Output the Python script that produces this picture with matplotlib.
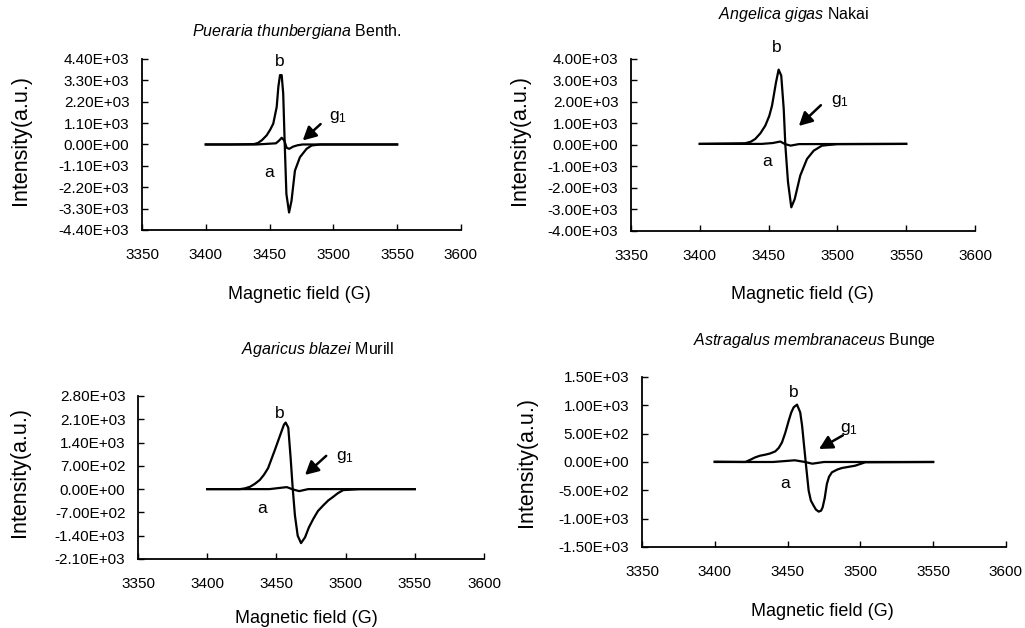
import matplotlib
matplotlib.use("Agg")
from matplotlib import pyplot as plt
from matplotlib.ticker import FuncFormatter, MultipleLocator

plt.rcParams['font.family'] = ['Liberation Sans', 'DejaVu Sans']
plt.rcParams['mathtext.fontset'] = 'custom'
plt.rcParams['mathtext.rm'] = 'Liberation Sans'
plt.rcParams['mathtext.it'] = 'Liberation Sans:italic'

# ---- data (field in G, intensity in a.u.) ----
titles = [r"$\it{Pueraria\ thunbergiana}$ Benth.",
          r"$\it{Angelica\ gigas}$ Nakai",
          r"$\it{Agaricus\ blazei}$ Murill",
          r"$\it{Astragalus\ membranaceus}$ Bunge"]

# Pueraria thunbergiana
b1_x = [3400, 3420, 3438, 3441, 3444, 3447.7, 3450.5, 3452.9, 3455.6, 3456.9, 3458.2, 3459.5,
        3460.7, 3461.9, 3463.2, 3465.3, 3467.2, 3469.9, 3473.8, 3479, 3483, 3490, 3520, 3550]
b1_y = [0, 0, 20, 80, 220, 466, 760, 1070, 1930, 2966, 3570, 3570,
        2620, 0, -2550, -3500, -2900, -1345, -657, -224, -52, 0, 0, 0]
a1_x = [3400, 3440, 3455, 3457.5, 3459.5, 3461.5, 3463.4, 3465.4, 3468.5, 3472, 3476, 3550]
a1_y = [0, 0, 60, 200, 345, 207, -171, -224, -110, -40, 0, 0]

# Angelica gigas
b2_x = [3400, 3433, 3437, 3440.3, 3444, 3447.6, 3450.5, 3452.5, 3455.4, 3457.3, 3459.2, 3461, 3462.2,
        3464.1, 3466.5, 3469, 3473, 3477.9, 3482.8, 3488.8, 3500, 3550]
b2_y = [50, 80, 150, 279, 540, 898, 1350, 1829, 2915, 3504, 3225, 1674, -31,
        -1720, -2900, -2512, -1426, -651, -264, -31, 40, 50]
a2_x = [3400, 3445, 3453, 3458.5, 3462, 3466, 3472, 3550]
a2_y = [50, 50, 90, 160, 40, -30, 40, 50]

# Agaricus blazei
b3_x = [3400, 3423.7, 3427, 3431, 3434.5, 3438, 3441, 3444, 3449, 3453.8, 3455.5, 3456.7,
        3458.6, 3460.3, 3461.8, 3463.4, 3465.4, 3467.8, 3470.7, 3473.5, 3476.7, 3480,
        3483.9, 3487.5, 3491, 3494.5, 3498.3, 3510, 3550]
b3_y = [0, 0, 20, 71, 160, 274, 430, 629, 1187, 1745, 1940, 2000,
        1847, 934, 20, -791, -1400, -1623, -1450, -1150, -893, -660,
        -487, -340, -233, -120, -30, 0, 0]
a3_x = [3400, 3445, 3457.5, 3462, 3466.5, 3473, 3550]
a3_y = [0, 0, 60, -10, -60, 0, 0]

# Astragalus membranaceus
b4_x = [3400, 3421, 3424.5, 3427.8, 3431, 3434.7, 3438, 3441.6, 3444, 3446.2, 3448.5, 3450.8,
        3452.5, 3454.2, 3456.5, 3458.7, 3460, 3461, 3462.6, 3464.5, 3466, 3467.9, 3469.5,
        3471.4, 3473, 3474.1, 3475.5, 3477, 3478.5, 3480.5, 3484, 3487.4, 3496.5, 3503.4, 3550]
b4_y = [5, 0, 40, 82, 110, 129, 150, 188, 250, 347, 520, 729,
        870, 965, 1012, 876, 640, 377, -35, -506, -680, -771, -840,
        -876, -860, -800, -640, -388, -260, -182, -135, -106, -65, -5, 0]
a4_x = [3400, 3440, 3455, 3462, 3467, 3475, 3550]
a4_y = [0, 0, 30, 0, -30, 0, 0]

ylims = [(-4400, 4400), (-4000, 4000), (-2100, 2800), (-1500, 1500)]
ysteps = [1100, 1000, 700, 500]

# label positions (data coords): b, a, g1, arrow tail, arrow head
b_pos = [(3458, 4245), (3456, 4512), (3452.6, 2283), (3454, 1235)]
a_pos = [(3450, -1450), (3449, -791), (3440, -578), (3448, -388)]
g_pos = [(3503.6, 1398), (3502, 2047), (3499.6, 974), (3492, 582)]
arrow_tail = [(3490, 1050), (3488, 1850), (3486, 1000), (3488, 470)]
arrow_head = [(3476, 207), (3472, 884), (3470.7, 426), (3471.6, 229)]

curves = [(b1_x, b1_y, a1_x, a1_y), (b2_x, b2_y, a2_x, a2_y),
          (b3_x, b3_y, a3_x, a3_y), (b4_x, b4_y, a4_x, a4_y)]

# axes rectangles in figure fraction, plus label/title positions in axes fraction
rects = [[0.1385, 0.6338, 0.3112, 0.2723],
         [0.6156, 0.6322, 0.3356, 0.2739],
         [0.1346, 0.1099, 0.3376, 0.2596],
         [0.6263, 0.1290, 0.3551, 0.2707]]
title_xy = [(0.486, 1.158), (0.474, 1.256), (0.52, 1.282), (0.475, 1.212)]
xlab_xy = [(0.495, -0.38), (0.497, -0.372), (0.488, -0.368), (0.495, -0.382)]
ylab_xy = [(-0.382, 0.526), (-0.323, 0.529), (-0.341, 0.534), (-0.316, 0.5)]

fig = plt.figure(figsize=(10.25, 6.28), dpi=100)

for i in range(4):
    ax = fig.add_axes(rects[i])
    bx, by, ax_, ay = curves[i]
    ax.plot(bx, by, color='black', lw=1.6)
    ax.plot(ax_, ay, color='black', lw=1.6)

    ax.set_xlim(3350, 3600)
    ax.set_ylim(*ylims[i])
    ax.xaxis.set_major_locator(MultipleLocator(50))
    ax.yaxis.set_major_locator(MultipleLocator(ysteps[i]))
    ax.yaxis.set_major_formatter(FuncFormatter(lambda v, p: "{:.2E}".format(v)))
    ax.tick_params(axis='both', direction='in', length=4, width=1, labelsize=11)
    ax.tick_params(axis='x', pad=13)
    ax.tick_params(axis='y', pad=9)
    for s in ['top', 'right']:
        ax.spines[s].set_visible(False)
    for s in ['left', 'bottom']:
        ax.spines[s].set_linewidth(1.3)

    ax.set_xlabel("Magnetic field (G)", fontsize=13)
    ax.xaxis.label.set_va('center')
    ax.xaxis.set_label_coords(*xlab_xy[i])
    ax.set_ylabel("Intensity(a.u.)", fontsize=15.5)
    ax.yaxis.label.set_va('center')
    ax.yaxis.set_label_coords(*ylab_xy[i])

    ax.text(title_xy[i][0], title_xy[i][1], titles[i], transform=ax.transAxes,
            ha='center', va='center', fontsize=11.5)

    ax.text(*b_pos[i], "b", ha='center', va='center', fontsize=12.5, clip_on=False)
    ax.text(*a_pos[i], "a", ha='center', va='center', fontsize=12.5)
    ax.text(*g_pos[i], r"g$_1$", ha='center', va='center', fontsize=12.5)
    ax.annotate("", xy=arrow_head[i], xytext=arrow_tail[i],
                arrowprops=dict(arrowstyle='-|>,head_length=0.8,head_width=0.42',
                                color='black', lw=1.8, shrinkA=0, shrinkB=0))

plt.savefig("out.png", dpi=100)
